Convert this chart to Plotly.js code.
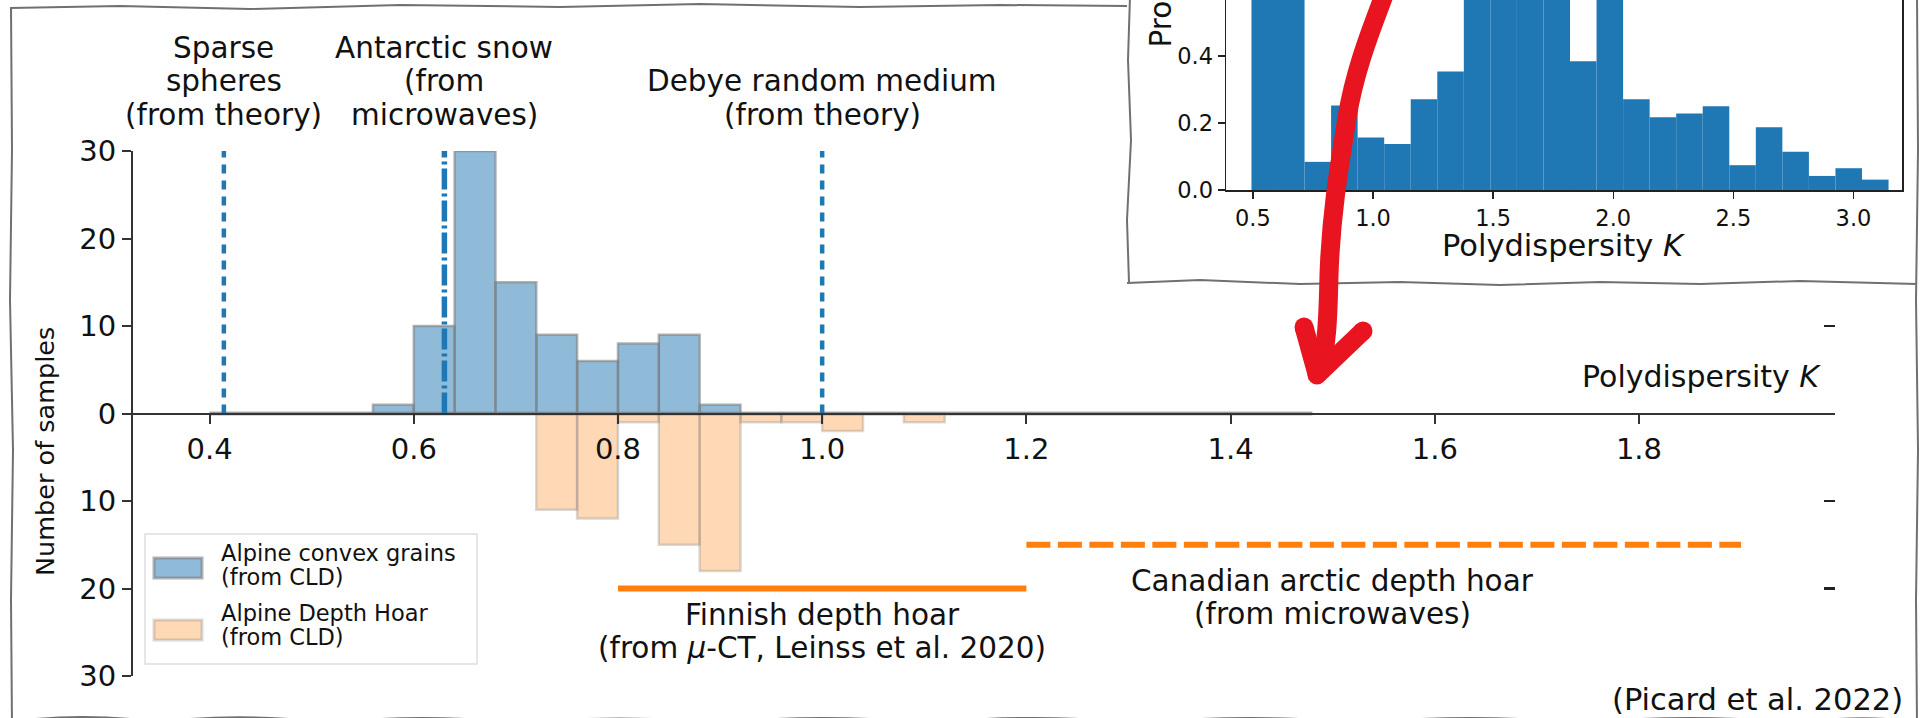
<!DOCTYPE html>
<html>
<head>
<meta charset="utf-8">
<script src="https://cdn.plot.ly/plotly-3.0.1.min.js"></script>
<style>
  html, body { margin: 0; padding: 0; background: #fff; overflow: hidden; }
  #chart { width: 1926px; height: 718px; }
</style>
</head>
<body>
<div id="chart"></div>
<script>
// ---------------- data ----------------
// Alpine samples: counts per polydispersity bin (bins 0.04 wide)
const binWidthK = 0.04;
const convexFirstEdge = 0.40;
const alpineConvexCounts = [0, 0, 0, 0, 1, 10, 30, 15, 9, 6, 8, 9, 1, 0, 0, 0, 0, 0, 0, 0, 0, 0, 0, 0, 0, 0, 0];
const hoarFirstEdge = 0.72;
const alpineDepthHoarCounts = [11, 12, 1, 15, 18, 1, 1, 2, 0, 1];

// Reference polydispersity values (vertical lines)
const refLineK = [0.414, 0.63, 1.0];
const refLineLabels = [
  ['Sparse', 'spheres', '(from theory)'],
  ['Antarctic snow', '(from', 'microwaves)'],
  ['Debye random medium', '(from theory)']
];

// Depth hoar ranges (horizontal lines, drawn on the lower half)
const hoarRangeK = [[0.8, 1.2], [1.2, 1.9]];
const hoarRangeLevel = [20, 15];
const hoarLabelK = [1.0, 1.5];
const hoarRangeLabels = [
  ['Finnish depth hoar', '(from <i>μ</i>-CT, Leinss et al. 2020)'],
  ['Canadian arctic depth hoar', '(from microwaves)']
];

// Axis ticks
const xTickK = [0.4, 0.6, 0.8, 1.0, 1.2, 1.4, 1.6, 1.8];
const yTickVals = [-30, -20, -10, 0, 10, 20, 30];
const yTickText = ['30', '20', '10', '0', '10', '20', '30'];
const rightTickVals = [10, -10, -20, -30];

// Inset: probability density of polydispersity
const insetFirstEdge = 0.494;
const insetBinWidth = 0.1105;
const insetDensity = [0.64, 0.72, 0.084, 0.252, 0.157, 0.137, 0.271, 0.354, 0.61, 0.66, 0.57, 0.63,
                      0.384, 0.62, 0.271, 0.217, 0.228, 0.25, 0.074, 0.187, 0.114, 0.042, 0.065, 0.031];
const insetXTicks = [0.5, 1.0, 1.5, 2.0, 2.5, 3.0];
const insetYTicks = [0.0, 0.2, 0.4];

const legendLabels = [
  ['Alpine convex grains', '(from CLD)'],
  ['Alpine Depth Hoar', '(from CLD)']
];

// ---------------- helpers ----------------
const W = 1926, H = 718;
const px = x => x / W;          // page pixel -> paper x
const py = y => 1 - y / H;      // page pixel -> paper y
const centers = (first, w, n) => Array.from({ length: n }, (_, i) => first + (i + 0.5) * w);
// convert "x,y" pixel pairs of an SVG path into paper coordinates
const paperPath = d => d.replace(/(-?\d+(?:\.\d+)?),(-?\d+(?:\.\d+)?)/g,
  (m, a, b) => px(+a).toFixed(5) + ',' + py(+b).toFixed(5));

const FONT = 'DejaVu Sans';
const INK = '#111';
const BLUE = '#1f77b4';
const ORANGE = '#ff7f0e';
const convexFill = 'rgba(31,119,180,0.5)';
const convexEdge = 'rgba(128,128,128,0.6)';
const hoarFill = 'rgba(255,127,14,0.3)';
const hoarEdge = 'rgba(128,128,128,0.3)';

// ---------------- traces ----------------
const traces = [];

// outline of the empty bins along zero
traces.push({
  type: 'scatter', mode: 'lines',
  x: [convexFirstEdge, convexFirstEdge + binWidthK * alpineConvexCounts.length], y: [0, 0],
  line: { color: convexEdge, width: 4 }, hoverinfo: 'skip', showlegend: false
});

traces.push({
  type: 'bar', name: 'Alpine convex grains (from CLD)',
  x: centers(convexFirstEdge, binWidthK, alpineConvexCounts.length),
  y: alpineConvexCounts, width: binWidthK,
  marker: { color: convexFill, line: { color: convexEdge, width: 2.5 } },
  cliponaxis: false, hoverinfo: 'skip'
});

traces.push({
  type: 'bar', name: 'Alpine Depth Hoar (from CLD)',
  x: centers(hoarFirstEdge, binWidthK, alpineDepthHoarCounts.length),
  y: alpineDepthHoarCounts.map(c => -c), width: binWidthK,
  marker: { color: hoarFill, line: { color: hoarEdge, width: 2.5 } },
  cliponaxis: false, hoverinfo: 'skip'
});

const refDash = ['9px,7px', '21px,4px,3px,4px', '9px,7px'];
refLineK.forEach((k, i) => {
  traces.push({
    type: 'scatter', mode: 'lines', x: [k, k], y: [0, 30],
    line: { color: BLUE, width: i === 1 ? 5.5 : 4.5, dash: refDash[i] },
    cliponaxis: false, hoverinfo: 'skip', showlegend: false
  });
});

hoarRangeK.forEach((r, i) => {
  traces.push({
    type: 'scatter', mode: 'lines', x: r, y: [-hoarRangeLevel[i], -hoarRangeLevel[i]],
    line: { color: ORANGE, width: 6, dash: i === 0 ? 'solid' : '24px,7.5px' },
    cliponaxis: false, hoverinfo: 'skip', showlegend: false
  });
});

// carries the short tick marks on the right-hand side
traces.push({
  type: 'scatter', mode: 'markers', x: [1.0], y: [0], yaxis: 'y2',
  marker: { opacity: 0 }, hoverinfo: 'skip', showlegend: false
});

// inset histogram
traces.push({
  type: 'bar', xaxis: 'x3', yaxis: 'y3',
  x: centers(insetFirstEdge, insetBinWidth, insetDensity.length),
  y: insetDensity, width: insetBinWidth,
  marker: { color: BLUE, line: { width: 0 } }, hoverinfo: 'skip', showlegend: false
});

// ---------------- annotations ----------------
const annotations = [];
const LABEL_SIZE = 29.5;
const txt = (o) => Object.assign({ showarrow: false, font: { family: FONT, size: LABEL_SIZE, color: INK } }, o);

refLineLabels.forEach((lines, i) => {
  const n = lines.length;
  lines.forEach((t, j) => {
    const fromBottom = n - 1 - j;
    annotations.push(txt({
      x: refLineK[i], y: 30, xref: 'x', yref: 'y', text: t,
      xanchor: 'center', yanchor: 'middle', yshift: 36 + 33.5 * fromBottom
    }));
  });
});

const hoarShifts = [[-26, -59.5], [-36.5, -69]];
hoarRangeLabels.forEach((lines, i) => {
  lines.forEach((t, j) => {
    annotations.push(txt({
      x: hoarLabelK[i], y: -hoarRangeLevel[i], xref: 'x', yref: 'y', text: t,
      xanchor: 'center', yanchor: 'middle', yshift: hoarShifts[i][j]
    }));
  });
});

// axis labels
annotations.push(txt({
  x: px(1823), y: py(376), xref: 'paper', yref: 'paper', text: 'Polydispersity <i>K</i>',
  xanchor: 'right', yanchor: 'middle', font: { family: FONT, size: 30, color: INK }
}));
annotations.push(txt({
  x: px(45), y: py(452), xref: 'paper', yref: 'paper', text: 'Number of samples', textangle: -90,
  xanchor: 'center', yanchor: 'middle', font: { family: FONT, size: 25.5, color: INK }
}));
annotations.push(txt({
  x: 0.5, y: py(246), xref: 'x3 domain', yref: 'paper', text: 'Polydispersity <i>K</i>',
  xanchor: 'center', yanchor: 'middle', font: { family: FONT, size: 30.5, color: INK }
}));
annotations.push(txt({
  x: px(1160), y: py(50), xref: 'paper', yref: 'paper', text: 'Probability density', textangle: -90,
  xanchor: 'center', yanchor: 'bottom', font: { family: FONT, size: 29.5, color: INK }
}));
annotations.push(txt({
  x: px(1757), y: py(699), xref: 'paper', yref: 'paper', text: '(Picard et al. 2022)',
  xanchor: 'center', yanchor: 'middle', font: { family: FONT, size: 30.5, color: INK }
}));

// legend text
const legendCenters = [[553, 577], [613, 637]];
legendLabels.forEach((lines, i) => {
  lines.forEach((t, j) => {
    annotations.push(txt({
      x: px(219), y: py(legendCenters[i][j]), xref: 'paper', yref: 'paper', text: t,
      xanchor: 'left', yanchor: 'middle', font: { family: FONT, size: 22.5, color: INK }
    }));
  });
});

// ---------------- shapes ----------------
const shapes = [];
const rectPx = (x0, y0, x1, y1, fill, line) => ({
  type: 'rect', xref: 'paper', yref: 'paper', x0: px(x0), x1: px(x1), y0: py(y1), y1: py(y0),
  fillcolor: fill, line: line, layer: 'above'
});

// legend frame and patches
shapes.push(rectPx(145, 534, 477, 664, 'rgba(255,255,255,0.9)', { color: '#dedede', width: 1.5 }));
shapes.push(rectPx(154, 558, 202, 578, convexFill, { color: convexEdge, width: 3 }));
shapes.push(rectPx(154, 620, 202, 640, hoarFill, { color: hoarEdge, width: 3 }));

// hand-drawn frames
const frameLine = { color: '#707070', width: 2 };
const framePaths = [
  'M10,8 L120,6 L250,9 L400,5 L560,7 L700,4 L860,7 L1000,5 L1127,6',
  'M11,7 L12,150 L10,300 L13,450 L11,600 L12,725',
  'M1130,-4 L1128,60 L1131,140 L1127,220 L1129,283',
  'M1127,283 L1200,280 L1300,284 L1400,282 L1500,285 L1600,282 L1700,284 L1800,281 L1917,284',
  'M1917,-4 L1918,150 L1916,300 L1918,450 L1916,600 L1917,725',
  'M10,722 Q80,712 160,722 Q240,712 330,723 Q420,713 520,723 Q620,714 720,723 Q820,713 930,723 Q1030,713 1140,723 Q1250,713 1360,723 Q1470,713 1580,723 Q1690,713 1800,723 Q1860,714 1917,722'
];
framePaths.forEach(d => shapes.push({
  type: 'path', xref: 'paper', yref: 'paper', path: paperPath(d), line: frameLine, layer: 'above'
}));

// red arrow pointing from the inset to the main axis
const RED = '#e8141f';
shapes.push({
  type: 'path', xref: 'paper', yref: 'paper', layer: 'above',
  path: paperPath('M1386,-10 C1373,25 1355,68 1347,118 C1339,168 1331,215 1329,275 C1328,320 1327,348 1319,372'),
  line: { color: RED, width: 19 }
});
shapes.push({
  type: 'path', xref: 'paper', yref: 'paper', layer: 'above',
  path: paperPath('M1304,327 L1317,374 M1363,331 L1318,374'),
  line: { color: RED, width: 19 }
});
[[1304, 327], [1363, 331], [1317, 375]].forEach(([cx, cy]) => {
  const r = 9.5;
  shapes.push({
    type: 'circle', xref: 'paper', yref: 'paper', layer: 'above',
    x0: px(cx - r), x1: px(cx + r), y0: py(cy + r), y1: py(cy - r),
    fillcolor: RED, line: { width: 0 }
  });
});

// ---------------- layout ----------------
const tickFont = { family: FONT, size: 29, color: INK };
const layout = {
  width: W, height: H,
  margin: { l: 0, r: 0, t: 0, b: 0, pad: 0 },
  paper_bgcolor: '#ffffff', plot_bgcolor: 'rgba(0,0,0,0)',
  showlegend: false, barmode: 'overlay',
  font: { family: FONT, color: INK },
  xaxis: {
    domain: [px(133), px(1835)], range: [0.325, 1.992],
    anchor: 'free', position: py(413.5),
    showline: true, linecolor: '#333', linewidth: 2.5,
    ticks: 'outside', ticklen: 9, tickwidth: 2, tickcolor: '#333',
    tickvals: xTickK, tickformat: '.1f', tickfont: tickFont,
    showgrid: false, zeroline: false
  },
  yaxis: {
    domain: [py(676), py(151)], range: [-30, 30], anchor: 'x',
    showline: true, linecolor: '#333', linewidth: 2,
    ticks: 'outside', ticklen: 9, tickwidth: 2, tickcolor: '#333',
    tickvals: yTickVals, ticktext: yTickText, tickfont: tickFont,
    showgrid: false, zeroline: false
  },
  yaxis2: {
    overlaying: 'y', side: 'right', anchor: 'x', range: [-30, 30],
    tickvals: rightTickVals, ticks: 'inside', ticklen: 11, tickwidth: 2.5, tickcolor: '#222',
    showticklabels: false, showline: false, showgrid: false, zeroline: false
  },
  xaxis3: {
    domain: [px(1226), px(1902)], range: [0.388, 3.202], anchor: 'y3',
    showline: true, linecolor: '#222', linewidth: 1.5,
    ticks: 'outside', ticklen: 7, tickwidth: 1.5, tickcolor: '#222',
    tickvals: insetXTicks, tickformat: '.1f', tickfont: { family: FONT, size: 22.5, color: INK },
    showgrid: false, zeroline: false
  },
  yaxis3: {
    domain: [py(190), 1], range: [0, 0.567], anchor: 'x3',
    showline: true, mirror: true, linecolor: '#222', linewidth: 1.5,
    ticks: 'outside', ticklen: 7, tickwidth: 1.5, tickcolor: '#222',
    tickvals: insetYTicks, tickformat: '.1f', tickfont: { family: FONT, size: 22.5, color: INK },
    showgrid: false, zeroline: false
  },
  annotations: annotations,
  shapes: shapes
};

Plotly.newPlot('chart', traces, layout, { staticPlot: true, displayModeBar: false });
</script>
</body>
</html>
